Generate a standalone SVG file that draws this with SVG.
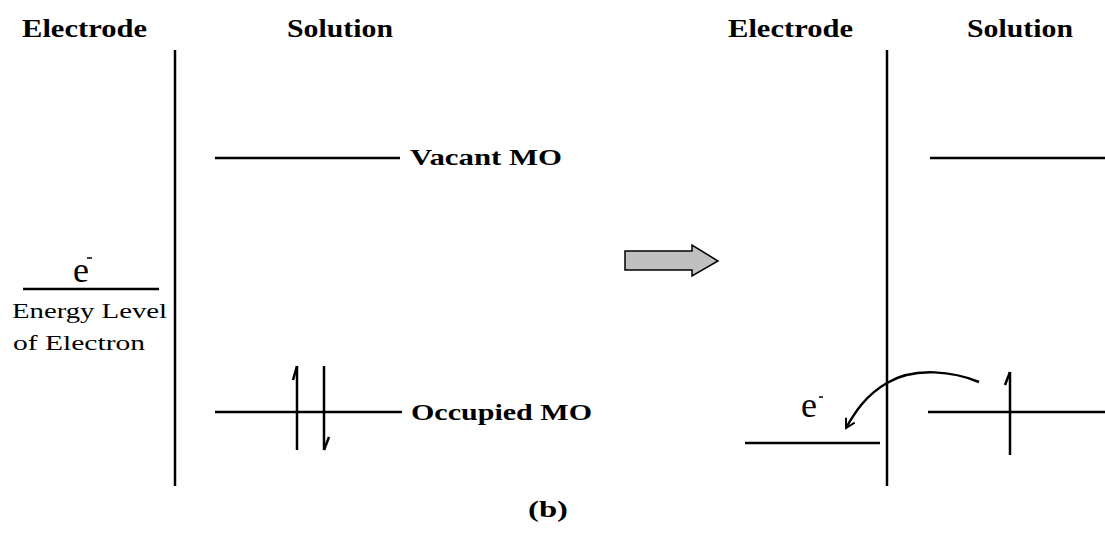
<svg xmlns="http://www.w3.org/2000/svg" width="1105" height="533" viewBox="0 0 1105 533">
<style>
.h{font-family:"Liberation Serif",serif;font-weight:bold;font-size:25px;fill:#000}
.lbl{font-family:"Liberation Serif",serif;font-weight:bold;font-size:24px;fill:#000}
.r{font-family:"Liberation Serif",serif;font-size:21px;fill:#000}
.e{font-family:"Liberation Serif",serif;font-size:36px;fill:#000}
.ln{stroke:#000;stroke-width:2.5;fill:none}
</style>
<defs>
<marker id="ah" markerWidth="12" markerHeight="12" refX="10" refY="6" orient="auto" markerUnits="userSpaceOnUse">
<path d="M1,1 L10,6 L1,11" fill="none" stroke="#000" stroke-width="2"/>
</marker>
</defs>
<rect width="1105" height="533" fill="#fff"/>
<g id="left-headers">
<text class="h" x="22" y="37" textLength="125" lengthAdjust="spacingAndGlyphs">Electrode</text>
<text class="h" x="287" y="37" textLength="106" lengthAdjust="spacingAndGlyphs">Solution</text>
</g>
<g id="left-interface"><line class="ln" x1="175" y1="50" x2="175" y2="486"/></g>
<g id="electron-level">
<line class="ln" x1="23" y1="289" x2="159" y2="289"/>
<text class="e" x="73" y="282">e</text>
<line x1="87" y1="258" x2="92" y2="258" stroke="#000" stroke-width="1.5"/>
<text class="r" x="12" y="318" textLength="155" lengthAdjust="spacingAndGlyphs">Energy Level</text>
<text class="r" x="13" y="350" textLength="132" lengthAdjust="spacingAndGlyphs">of Electron</text>
</g>
<g id="vacant-mo">
<line class="ln" x1="215" y1="158" x2="400" y2="158"/>
<text class="lbl" x="410" y="165" textLength="152" lengthAdjust="spacingAndGlyphs">Vacant MO</text>
</g>
<g id="occupied-mo">
<line class="ln" x1="215" y1="412" x2="402" y2="412"/>
<line class="ln" x1="297" y1="366" x2="297" y2="450"/>
<line class="ln" x1="297" y1="366" x2="293" y2="380"/>
<line class="ln" x1="324" y1="366" x2="324" y2="450"/>
<line class="ln" x1="324" y1="450" x2="329" y2="437"/>
<text class="lbl" x="411" y="420" textLength="181" lengthAdjust="spacingAndGlyphs">Occupied MO</text>
</g>
<g id="transition-arrow">
<path d="M625,251 H692 V245 L718,261 L692,276 V270 H625 Z" fill="#c0c0c0" stroke="#000" stroke-width="1.5"/>
</g>
<g id="right-headers">
<text class="h" x="728" y="37" textLength="125" lengthAdjust="spacingAndGlyphs">Electrode</text>
<text class="h" x="967" y="37" textLength="106" lengthAdjust="spacingAndGlyphs">Solution</text>
</g>
<g id="right-interface"><line class="ln" x1="887" y1="50" x2="887" y2="486"/></g>
<g id="right-vacant"><line class="ln" x1="930" y1="158" x2="1105" y2="158"/></g>
<g id="right-occupied">
<line class="ln" x1="928" y1="412" x2="1105" y2="412"/>
<line class="ln" x1="1010" y1="372" x2="1010" y2="455"/>
<line class="ln" x1="1010" y1="372" x2="1005" y2="385"/>
</g>
<g id="right-electrode-level">
<line class="ln" x1="745" y1="443" x2="880" y2="443"/>
<text class="e" x="801" y="417" font-size="34">e</text>
<line x1="819" y1="397" x2="823" y2="397" stroke="#000" stroke-width="1.5"/>
</g>
<g id="connectors">
<path class="ln" d="M979,382 C955,372 915,366 887,383 C866,395 855,412 846,428" marker-end="url(#ah)"/>
</g>
<g id="caption"><text class="lbl" x="528" y="517" textLength="40" lengthAdjust="spacingAndGlyphs">(b)</text></g>
</svg>
